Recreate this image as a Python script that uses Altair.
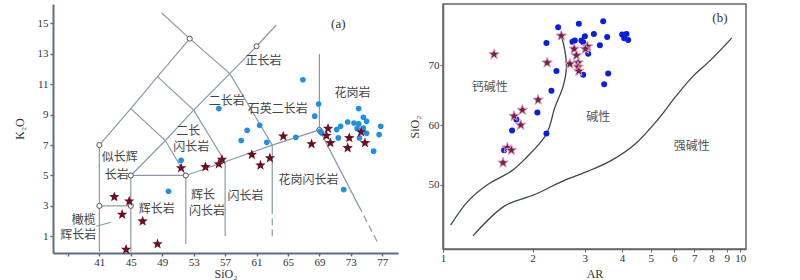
import altair as alt
import pandas as pd

STAR = ("M0,-1L0.247,-0.34L0.951,-0.309L0.399,0.13L0.588,0.809L0,0.42"
        "L-0.588,0.809L-0.399,0.13L-0.951,-0.309L-0.247,-0.34Z")

# ---------------- Panel (a): SiO2 vs K2O ----------------
a_blue_x = [51.4, 49.8, 56.2, 59.8, 59.05, 61.4, 62.3, 66.0, 72.1, 66.9, 68.9, 68.4,
            74.0, 74.6, 75.0, 72.6, 73.4, 74.0, 71.7, 71.2, 74.6, 73.8, 76.8, 76.6,
            75.0, 69.1, 69.3, 71.4, 74.1, 75.9]
a_blue_y = [6.0, 3.96, 9.4, 7.97, 7.3, 8.3, 7.18, 7.51, 4.07, 11.3, 9.7, 8.9,
            9.4, 8.83, 8.57, 8.52, 8.45, 8.39, 8.24, 8.02, 8.12, 8.09, 8.24, 7.69,
            7.77, 7.9, 7.8, 7.47, 7.47, 6.6]

a_star_x = [42.9, 44.8, 43.9, 46.5, 44.4, 48.4, 51.4, 54.5, 56.2, 56.6, 60.4, 61.5,
            62.7, 64.4, 68.0, 70.1, 69.9, 70.4, 72.8, 72.6, 74.3, 74.8]
a_star_y = [3.59, 3.30, 2.43, 1.99, 0.13, 0.49, 5.49, 5.56, 5.75, 6.05, 6.37, 5.67,
            6.15, 7.58, 7.07, 8.09, 7.62, 7.14, 7.47, 6.81, 7.86, 7.14]

# classification boundaries (solid)
a_seg_x = [[41, 41], [41, 45], [45, 45, 52], [52, 52],
           [41, 45, 48.4, 52.5], [45, 49.4, 52], [48.4, 53, 57],
           [45, 49.4, 53, 57.6, 61, 63.5], [48.9, 52.5, 57.6, 63],
           [52, 57, 63, 69], [57, 57], [63, 63], [69, 69], [69, 74],
           [40.6, 42.5]]
a_seg_y = [[0, 7], [3, 3], [0, 5, 5], [0.5, 5],
           [7, 9.4, 11.5, 14], [9.4, 7.3, 5], [11.5, 9.3, 5.9],
           [5, 7.3, 9.3, 11.7, 13.5, 14.9], [15.7, 14, 11.7, 7],
           [5, 5.9, 7, 8], [1, 5.9], [2.6, 7], [8, 13], [8, 3],
           [1.66, 1.92]]
# dashed boundaries
a_dash_x = [[63, 63], [74, 76.4]]
a_dash_y = [[1, 2.6], [3, 0.6]]

a_node_x = [41, 41, 45, 45, 52, 52.5, 61, 69]
a_node_y = [3, 7, 3, 5, 5, 14, 13.5, 8]

a_label_text = ["正长岩", "花岗岩", "石英二长岩", "二长岩", "二长", "闪长岩", "似长辉", "长岩",
                "辉长岩", "橄榄", "辉长岩", "辉长", "闪长岩", "闪长岩", "花岗闪长岩"]
a_label_x = [61.9, 73.2, 63.7, 57.2, 52.3, 52.7, 43.6, 43.2,
             48.3, 39.0, 38.3, 54.2, 54.7, 59.6, 67.6]
a_label_y = [12.5, 10.4, 9.36, 9.9, 7.95, 6.85, 6.2, 5.0,
             2.82, 2.1, 1.07, 3.74, 2.64, 3.63, 4.73]
a_tag = ["(a)"]
a_tag_x = [71.4]
a_tag_y = [14.95]

a_xticks = [37, 41, 45, 49, 53, 57, 61, 65, 69, 73, 77]
a_yticks = [1, 3, 5, 7, 9, 11, 13, 15]

# ---------------- Panel (b): AR vs SiO2 ----------------
b_blue_x = [2.439, 2.863, 3.457, 3.217, 3.566, 3.0, 2.776, 2.725, 2.922, 2.961, 3.370,
            3.078, 2.228, 2.407, 2.961, 3.594, 3.484, 2.316, 2.077, 1.765, 1.707, 2.228,
            1.605, 4.006, 4.142, 4.068, 4.197]
b_blue_y = [76.3, 76.9, 77.3, 75.2, 74.7, 74.8, 74.1, 73.9, 74.1, 73.8, 73.3,
            71.9, 73.7, 69.0, 68.4, 68.6, 66.8, 65.7, 62.1, 60.9, 59.1, 58.6,
            55.8, 75.1, 75.2, 74.5, 74.2]

b_star_x = [1.485, 2.50, 2.240, 2.761, 2.811, 2.848, 2.671, 2.848, 2.863, 3.061, 3.014,
            2.089, 1.849, 1.734, 1.826, 1.646, 1.698, 1.592]
b_star_y = [71.8, 74.9, 70.4, 72.7, 71.6, 70.4, 70.2, 69.7, 69.0, 73.1, 72.7,
            64.2, 62.5, 61.5, 60.0, 56.2, 55.8, 53.7]

b_curve1_x = [1.061, 1.214, 1.418, 1.698, 1.884, 2.228, 2.377, 2.536, 2.601, 2.570, 2.50]
b_curve1_y = [43.3, 47.3, 50.1, 52.3, 54.3, 58.5, 62.9, 66.5, 69.6, 72.4, 74.9]
b_curve2_x = [1.262, 1.613, 2.036, 2.570, 3.078, 3.687, 4.42, 5.30, 6.03, 6.95, 8.01, 9.35]
b_curve2_y = [41.5, 46.5, 48.4, 50.8, 52.3, 54.1, 56.8, 61.0, 64.6, 68.2, 71.0, 74.5]

b_label_text = ["钙碱性", "碱性", "强碱性"]
b_label_x = [1.436, 3.325, 6.86]
b_label_y = [66.4, 61.4, 56.5]
b_tag = ["(b)"]
b_tag_x = [8.54]
b_tag_y = [77.9]

b_xticks = [1, 2, 3, 4, 5, 6, 7, 8, 9, 10]
b_yticks = [50, 60, 70]

# ---------------- build tables ----------------
def seg_frame(xs, ys):
    rows = []
    for i, (sx, sy) in enumerate(zip(xs, ys)):
        for j, (x, y) in enumerate(zip(sx, sy)):
            rows.append({"seg": i, "ord": j, "x": x, "y": y})
    return pd.DataFrame(rows)

df_a_seg = seg_frame(a_seg_x, a_seg_y)
df_a_dash = seg_frame(a_dash_x, a_dash_y)
df_a_node = pd.DataFrame({"x": a_node_x, "y": a_node_y})
df_a_blue = pd.DataFrame({"x": a_blue_x, "y": a_blue_y})
df_a_star = pd.DataFrame({"x": a_star_x, "y": a_star_y})
df_a_lab = pd.DataFrame({"x": a_label_x, "y": a_label_y, "t": a_label_text})
df_a_tag = pd.DataFrame({"x": a_tag_x, "y": a_tag_y, "t": a_tag})

df_b_curve = seg_frame([b_curve1_x, b_curve2_x], [b_curve1_y, b_curve2_y])
df_b_blue = pd.DataFrame({"x": b_blue_x, "y": b_blue_y})
df_b_star = pd.DataFrame({"x": b_star_x, "y": b_star_y})
df_b_lab = pd.DataFrame({"x": b_label_x, "y": b_label_y, "t": b_label_text})
df_b_tag = pd.DataFrame({"x": b_tag_x, "y": b_tag_y, "t": b_tag})

SERIF = "Liberation Serif"
CJK = "Noto Sans CJK SC"
AX_A = "#5d6d7e"
LINE_A = "#8a9aaa"

ax_a_x = alt.Axis(values=a_xticks, labelExpr="datum.value == 37 ? '' : datum.label",
                  grid=False, domainColor=AX_A, domainWidth=2, tickColor=AX_A, tickWidth=1.5,
                  tickSize=3, labelPadding=0, labelFont=SERIF, labelFontSize=11,
                  labelColor="#333", title="SiO₂", titleFont=SERIF, titleFontSize=12,
                  titleFontWeight="normal", titleColor="#333", titleY=15, titleBaseline="top")
ax_a_y = alt.Axis(values=a_yticks, grid=False, domainColor=AX_A, domainWidth=2,
                  tickColor=AX_A, tickWidth=1.5, tickSize=3, labelPadding=2,
                  labelFont=SERIF, labelFontSize=11, labelColor="#333", title="K₂O",
                  titleFont=SERIF, titleFontSize=12, titleFontWeight="normal",
                  titleColor="#333", titlePadding=11)

xa = alt.X("x:Q", scale=alt.Scale(domain=[35.1, 79], nice=False, zero=False), axis=ax_a_x)
ya = alt.Y("y:Q", scale=alt.Scale(domain=[-0.1, 16.28], nice=False, zero=False), axis=ax_a_y)

a_lines = alt.Chart(df_a_seg).mark_line(color=LINE_A, strokeWidth=1.2).encode(
    x=xa, y=ya, detail="seg:N", order="ord:Q")
a_dashes = alt.Chart(df_a_dash).mark_line(color=LINE_A, strokeWidth=1.2, strokeDash=[7, 4]).encode(
    x=xa, y=ya, detail="seg:N", order="ord:Q")
a_nodes = alt.Chart(df_a_node).mark_point(shape="circle", filled=True, fill="white",
                                          stroke="#555", strokeWidth=1, size=26, opacity=1).encode(x=xa, y=ya)
a_blue = alt.Chart(df_a_blue).mark_point(shape="circle", filled=True, color="#1f8fe8",
                                         size=32, opacity=1).encode(x=xa, y=ya)
a_star = alt.Chart(df_a_star).mark_point(shape=STAR, filled=True, color="#6b0f22",
                                         size=120, opacity=1).encode(x=xa, y=ya)
a_labels = alt.Chart(df_a_lab).mark_text(font=CJK, fontSize=12, color="#444",
                                         align="center", baseline="middle").encode(
    x=xa, y=ya, text="t:N")
a_tagm = alt.Chart(df_a_tag).mark_text(font=SERIF, fontSize=13, color="#333",
                                       align="center", baseline="middle").encode(
    x=xa, y=ya, text="t:N")

panel_a = alt.layer(a_lines, a_dashes, a_nodes, a_blue, a_star, a_labels, a_tagm).properties(
    width=345, height=249)

AX_B = "#666"
ax_b_x = alt.Axis(values=b_xticks, format="d", grid=False, domainColor=AX_B, domainWidth=1.5,
                  tickColor=AX_B, tickSize=3, labelPadding=0, labelFont=SERIF, labelFontSize=11,
                  labelColor="#333", title="AR", titleFont=SERIF, titleFontSize=12,
                  titleFontWeight="normal", titleColor="#333", titleY=19, titleBaseline="top",
                  labelFlush=False)
ax_b_y = alt.Axis(values=b_yticks, grid=False, domainColor=AX_B, domainWidth=1.5,
                  tickColor=AX_B, tickSize=3, labelPadding=1, labelFont=SERIF, labelFontSize=11,
                  labelColor="#333", title="SiO₂", titleFont=SERIF, titleFontSize=12,
                  titleFontWeight="normal", titleColor="#333", titlePadding=7)

xb = alt.X("x:Q", scale=alt.Scale(type="log", domain=[1, 10.45], nice=False), axis=ax_b_x)
yb = alt.Y("y:Q", scale=alt.Scale(domain=[39.3, 80.2], nice=False, zero=False), axis=ax_b_y)

b_curves = alt.Chart(df_b_curve).mark_line(color="#3b474f", strokeWidth=1.3,
                                           interpolate="catmull-rom").encode(
    x=xb, y=yb, detail="seg:N", order="ord:Q")
b_blue = alt.Chart(df_b_blue).mark_point(shape="circle", filled=True, color="#0b1ee6",
                                         size=36, opacity=1).encode(x=xb, y=yb)
b_star = alt.Chart(df_b_star).mark_point(shape=STAR, filled=True, fill="#7a1f4c",
                                         stroke="#d6a0bf", strokeWidth=1, size=120,
                                         opacity=1).encode(x=xb, y=yb)
b_labels = alt.Chart(df_b_lab).mark_text(font=CJK, fontSize=12, color="#555",
                                         align="center", baseline="middle").encode(
    x=xb, y=yb, text="t:N")
b_tagm = alt.Chart(df_b_tag).mark_text(font=SERIF, fontSize=13, color="#333",
                                       align="center", baseline="middle").encode(
    x=xb, y=yb, text="t:N")

panel_b = alt.layer(b_curves, b_blue, b_star, b_labels, b_tagm).properties(
    width=303, height=245, view=alt.ViewBackground(stroke=AX_B, strokeWidth=1.5))

chart = alt.hconcat(panel_a, panel_b, spacing=9).properties(
    padding={"left": 13, "top": 3, "right": 5, "bottom": 0},
    background="white",
).configure_view(stroke=None)

chart.save("out.html", embed_options={"renderer": "svg", "actions": False})
